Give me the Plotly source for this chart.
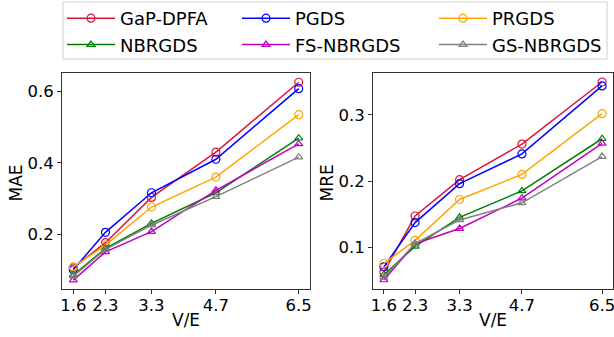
import plotly.graph_objects as go

ve = [1.6, 2.3, 3.3, 4.7, 6.5]
x_ticks = [1.6, 2.3, 3.3, 4.7, 6.5]

models = ["GaP-DPFA", "PGDS", "PRGDS", "NBRGDS", "FS-NBRGDS", "GS-NBRGDS"]
colors = ["#dc143c", "#0000ff", "#ffa500", "#008000", "#bf00bf", "#808080"]
symbols = ["circle-open", "circle-open", "circle-open",
           "triangle-up-open", "triangle-up-open", "triangle-up-open"]

mae_gap_dpfa = [0.105, 0.176, 0.303, 0.430, 0.626]
mae_pgds = [0.100, 0.205, 0.316, 0.410, 0.608]
mae_prgds = [0.108, 0.169, 0.276, 0.360, 0.535]
mae_nbrgds = [0.085, 0.160, 0.230, 0.316, 0.469]
mae_fs_nbrgds = [0.071, 0.150, 0.207, 0.323, 0.453]
mae_gs_nbrgds = [0.082, 0.157, 0.225, 0.305, 0.416]

mre_gap_dpfa = [0.062, 0.147, 0.202, 0.256, 0.350]
mre_pgds = [0.070, 0.137, 0.196, 0.241, 0.344]
mre_prgds = [0.075, 0.110, 0.172, 0.210, 0.302]
mre_nbrgds = [0.058, 0.101, 0.145, 0.185, 0.264]
mre_fs_nbrgds = [0.050, 0.105, 0.128, 0.174, 0.257]
mre_gs_nbrgds = [0.054, 0.105, 0.141, 0.167, 0.237]

mae = [mae_gap_dpfa, mae_pgds, mae_prgds, mae_nbrgds, mae_fs_nbrgds, mae_gs_nbrgds]
mre = [mre_gap_dpfa, mre_pgds, mre_prgds, mre_nbrgds, mre_fs_nbrgds, mre_gs_nbrgds]

FONT = "DejaVu Sans"
W, H = 614, 337
ML, MR, MT, MB = 62, 1, 73, 48
PW, PH = W - ML - MR, H - MT - MB

def dx(p):  # pixel x -> paper x
    return (p - ML) / PW

def dy(p):  # pixel y (from top) -> paper y
    return (H - MB - p) / PH

def cx(p):
    return p / W

def cy(p):
    return (H - p) / H

fig = go.Figure()
legend_of = ["legend", "legend2", "legend3", "legend", "legend2", "legend3"]
for i, name in enumerate(models):
    fig.add_trace(go.Scatter(
        x=ve, y=mae[i], mode="lines+markers", name=name,
        line=dict(color=colors[i], width=1.5),
        marker=dict(symbol=symbols[i], size=8 if "circle" in symbols[i] else 7,
                    color=colors[i], line=dict(width=1.2, color=colors[i])),
        xaxis="x", yaxis="y", legend=legend_of[i], showlegend=True))
for i, name in enumerate(models):
    fig.add_trace(go.Scatter(
        x=ve, y=mre[i], mode="lines+markers", name=name,
        line=dict(color=colors[i], width=1.5),
        marker=dict(symbol=symbols[i], size=8 if "circle" in symbols[i] else 7,
                    color=colors[i], line=dict(width=1.2, color=colors[i])),
        xaxis="x2", yaxis="y2", showlegend=False))

axis_common = dict(
    showline=True, linecolor="#333333", linewidth=1, mirror=True,
    ticks="outside", ticklen=4, tickwidth=1, tickcolor="#333333",
    showgrid=False, zeroline=False, automargin=False,
    ticklabeloverflow="allow",
    tickfont=dict(family=FONT, size=16.5, color="black"),
)

fig.update_layout(
    width=W, height=H,
    margin=dict(l=ML, r=MR, t=MT, b=MB, autoexpand=False),
    paper_bgcolor="white", plot_bgcolor="white",
    font=dict(family=FONT, size=17, color="black"),
    xaxis=dict(domain=[dx(62), dx(310)], range=[1.355, 6.745],
               tickvals=x_ticks, ticktext=[str(v) for v in x_ticks],
               ticklabelstandoff=-3, anchor="y", **axis_common),
    yaxis=dict(domain=[dy(289), dy(73)], range=[0.046, 0.652],
               tickvals=[0.2, 0.4, 0.6], ticktext=["0.2", "0.4", "0.6"],
               anchor="x", **axis_common),
    xaxis2=dict(domain=[dx(373), dx(613)], range=[1.355, 6.745],
                tickvals=x_ticks, ticktext=[str(v) for v in x_ticks],
                ticklabelstandoff=-3, anchor="y2", **axis_common),
    yaxis2=dict(domain=[dy(289), dy(73)], range=[0.0364, 0.3636],
                tickvals=[0.1, 0.2, 0.3], ticktext=["0.1", "0.2", "0.3"],
                anchor="x2", **axis_common),
    showlegend=True,
)

title_font = dict(family=FONT, size=17, color="black")
fig.add_annotation(text="V/E", xref="paper", yref="paper", x=dx(186), y=dy(320),
                   showarrow=False, font=title_font, xanchor="center", yanchor="middle")
fig.add_annotation(text="V/E", xref="paper", yref="paper", x=dx(493), y=dy(320),
                   showarrow=False, font=title_font, xanchor="center", yanchor="middle")
fig.add_annotation(text="MAE", xref="paper", yref="paper", x=dx(15.5), y=dy(183),
                   showarrow=False, font=title_font, textangle=-90,
                   xanchor="center", yanchor="middle")
fig.add_annotation(text="MRE", xref="paper", yref="paper", x=dx(326.5), y=dy(183),
                   showarrow=False, font=title_font, textangle=-90,
                   xanchor="center", yanchor="middle")

leg_common = dict(orientation="v", xanchor="left", yanchor="top",
                  xref="container", yref="container",
                  bgcolor="rgba(0,0,0,0)", borderwidth=0,
                  font=dict(family=FONT, size=18, color="black"),
                  itemwidth=48, tracegroupgap=0)
fig.update_layout(
    legend=dict(x=cx(62), y=cy(-1.5), **leg_common),
    legend2=dict(x=cx(237), y=cy(-1.5), **leg_common),
    legend3=dict(x=cx(434), y=cy(-1.5), **leg_common),
)

fig.add_shape(type="rect", xref="paper", yref="paper",
              x0=dx(63), x1=dx(607), y0=dy(59), y1=dy(2),
              line=dict(color="#d0d0d0", width=1), fillcolor="rgba(0,0,0,0)",
              layer="below")

fig.write_html("out.html", config={"displayModeBar": False},
               post_script="document.body.style.margin='0';document.body.style.overflow='hidden';")
